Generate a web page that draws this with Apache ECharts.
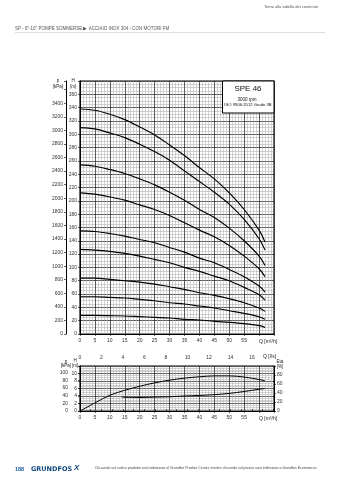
<!DOCTYPE html>
<html>
<head>
<meta charset="utf-8">
<script src="https://cdn.jsdelivr.net/npm/echarts@6/dist/echarts.min.js"></script>
<style>
html,body{margin:0;padding:0;background:#fff}
#c{width:339px;height:480px}
</style>
</head>
<body>
<div id="c"></div>
<script>
// Flow points (m³/h) at which the head curves are read
const flowPoints = [0, 5, 10, 15, 20, 25, 30, 35, 40, 45, 50, 55, 60, 62];

// Pump head H [m] per stage count
const stageNames = ['-24', '-22', '-18', '-15', '-11', '-9', '-6', '-4', '-2'];
const head24 = [338, 336, 330, 322, 311, 299, 284, 268, 250, 233, 212, 187, 156, 138];
const head22 = [310, 308, 302, 295, 285, 274, 261, 245, 229, 213, 195, 172, 143, 126];
const head18 = [254, 252, 247, 241, 233, 224, 213, 201, 187, 175, 159, 140, 117, 103];
const head15 = [212, 210, 206, 201, 194, 187, 178, 167, 156, 146, 133, 117, 98, 86];
const head11 = [155, 154, 151, 147, 142, 137, 130, 123, 114, 107, 97, 86, 72, 63];
const head9  = [127, 126, 124, 121, 117, 112, 107, 100, 94, 87, 80, 70, 59, 51];
const head6  = [84, 84, 82, 80, 78, 75, 71, 67, 62, 58, 53, 47, 39, 34];
const head4  = [56, 56, 55, 54, 52, 50, 47, 45, 42, 39, 35, 31, 26, 22];
const head2  = [28, 28, 27.5, 27, 26, 25, 24, 22, 21, 19, 17.5, 15.5, 12.5, 10];
const headCurves = [head24, head22, head18, head15, head11, head9, head6, head4, head2];

// Efficiency and NPSH
const etaFlow = [0, 5, 10, 15, 20, 25, 30, 35, 40, 45, 50, 55, 60, 62];
const etaValues = [0, 18, 35, 46, 55, 62.5, 68.5, 73, 76, 78, 78, 75.5, 70, 67];
const npshFlow = [14, 20, 25, 30, 35, 40, 45, 50, 55, 60, 62];
const npshValues = [3.7, 3.6, 3.7, 3.8, 4.0, 4.15, 4.35, 4.7, 5.2, 5.8, 6.0];

// Axis ranges and tick steps
const flowMax = 65, flowStep = 5, flowLabelMax = 55;
const headMax = 380, headStep = 20, headLabelMax = 360;
const kpaPerMetre = 9.81;
const pressureStep = 200, pressureLabelMax = 3400;
const npshMax = 12, npshStep = 2, npshLabelMax = 10;
const smallPressureStep = 20, smallPressureLabelMax = 100;
const etaMax = 100, etaStep = 20, etaLabelMax = 80;
const litreMax = flowMax / 3.6, litreLabelMax = 16;

const FONT = 'Liberation Sans, Arial, sans-serif';
const tickFont = { fontSize: 5, color: '#333', fontFamily: FONT };
const majorGrid = { show: true, lineStyle: { color: '#333', width: 0.8 } };
const minorGrid = { show: true, lineStyle: { color: '#a8a8a8', width: 0.5 } };
const axisBlack = { show: true, lineStyle: { color: '#000', width: 1 } };

function pairs(xs, ys) { return xs.map((x, i) => [x, ys[i]]); }

const headSeries = headCurves.map((curve, k) => ({
  type: 'line', xAxisIndex: 0, yAxisIndex: 0, smooth: 0.35, symbol: 'none',
  lineStyle: { color: '#000', width: 1.15 },
  data: curve.map((h, i) => i === 0
    ? { value: [flowPoints[i], h], label: { show: true, formatter: stageNames[k], position: [3, -6], fontSize: 4.5, color: '#333', fontFamily: FONT } }
    : [flowPoints[i], h])
}));

const etaData = pairs(etaFlow, etaValues).map((p, i) => i === 9
  ? { value: p, label: { show: true, formatter: 'Eta', position: [-4, -7], fontSize: 4.5, color: '#222', fontFamily: FONT } }
  : p);
const npshData = pairs(npshFlow, npshValues).map((p, i) => i === 4
  ? { value: p, label: { show: true, formatter: 'NPSH', position: [-2, -7], fontSize: 4.5, color: '#222', fontFamily: FONT } }
  : p);

const chart = echarts.init(document.getElementById('c'), null, { renderer: 'canvas' });

const flowAxis = (grid) => ({
  type: 'value', gridIndex: grid, min: 0, max: flowMax, interval: flowStep,
  axisLine: axisBlack,
  axisTick: { show: true, length: 2, lineStyle: { color: '#000', width: 0.6 } },
  axisLabel: Object.assign({ margin: 4, formatter: v => v <= flowLabelMax ? String(v) : '' }, tickFont),
  splitLine: majorGrid,
  minorTick: { show: false, splitNumber: 5 },
  minorSplitLine: minorGrid
});

chart.setOption({
  animation: false,
  grid: [
    { left: 80, top: 81, width: 194, height: 253, show: true, borderColor: '#000', borderWidth: 1.2, backgroundColor: 'transparent' },
    { left: 80, top: 366, width: 194, height: 45, show: true, borderColor: '#000', borderWidth: 1.2, backgroundColor: 'transparent' }
  ],
  xAxis: [
    flowAxis(0),
    flowAxis(1),
    {
      type: 'value', gridIndex: 1, position: 'top', offset: 14, min: 0, max: litreMax, interval: 1,
      axisLine: axisBlack,
      axisTick: { show: true, inside: false, length: 2, lineStyle: { color: '#000', width: 0.6 } },
      axisLabel: Object.assign({ inside: true, margin: 3, formatter: v => (v % 2 === 0 && v <= litreLabelMax) ? String(v) : '' }, tickFont),
      splitLine: { show: false }
    }
  ],
  yAxis: [
    {
      type: 'value', gridIndex: 0, min: 0, max: headMax, interval: headStep,
      axisLine: axisBlack,
      axisTick: { show: true, length: 2, lineStyle: { color: '#000', width: 0.6 } },
      axisLabel: Object.assign({ margin: 3, formatter: v => v <= headLabelMax ? String(v) : '' }, tickFont),
      splitLine: majorGrid,
      minorTick: { show: false, splitNumber: 4 },
      minorSplitLine: minorGrid
    },
    {
      type: 'value', gridIndex: 0, position: 'left', offset: 14, min: 0, max: headMax * kpaPerMetre, interval: pressureStep,
      axisLine: axisBlack,
      axisTick: { show: true, length: 2, lineStyle: { color: '#000', width: 0.6 } },
      axisLabel: Object.assign({ margin: 3, formatter: v => v <= pressureLabelMax ? String(v) : '' }, tickFont),
      splitLine: { show: false }
    },
    {
      type: 'value', gridIndex: 1, min: 0, max: npshMax, interval: npshStep,
      axisLine: axisBlack,
      axisTick: { show: true, length: 2, lineStyle: { color: '#000', width: 0.6 } },
      axisLabel: Object.assign({ margin: 3, formatter: v => v <= npshLabelMax ? String(v) : '' }, tickFont),
      splitLine: majorGrid,
      minorTick: { show: false, splitNumber: 4 },
      minorSplitLine: minorGrid
    },
    {
      type: 'value', gridIndex: 1, position: 'left', offset: 9, min: 0, max: npshMax * kpaPerMetre, interval: smallPressureStep,
      axisLine: axisBlack,
      axisTick: { show: true, length: 2, lineStyle: { color: '#000', width: 0.6 } },
      axisLabel: Object.assign({ margin: 3, formatter: v => v <= smallPressureLabelMax ? String(v) : '' }, tickFont),
      splitLine: { show: false }
    },
    {
      type: 'value', gridIndex: 1, position: 'right', min: 0, max: etaMax, interval: etaStep,
      axisLine: axisBlack,
      axisTick: { show: true, length: 2, lineStyle: { color: '#000', width: 0.6 } },
      axisLabel: Object.assign({ margin: 3, formatter: v => v <= etaLabelMax ? String(v) : '' }, tickFont),
      splitLine: { show: false }
    }
  ],
  series: headSeries.concat([
    { type: 'line', xAxisIndex: 1, yAxisIndex: 4, smooth: 0.35, symbol: 'none', lineStyle: { color: '#000', width: 1 }, data: etaData },
    { type: 'line', xAxisIndex: 1, yAxisIndex: 2, smooth: 0.35, symbol: 'none', lineStyle: { color: '#000', width: 1 }, data: npshData }
  ]),
  graphic: [
    // page header
    { type: 'text', right: 21, top: 5, style: { text: 'Torna alla tabella dei contenuti', fontSize: 4, fill: '#555', fontFamily: FONT } },
    { type: 'text', left: 15, top: 26, style: { text: 'SP - 6"-10" POMPE SOMMERSE ▶ ACCIAIO INOX 304 - CON MOTORI FM', fontSize: 4.5, fill: '#555', fontFamily: FONT } },
    { type: 'line', shape: { x1: 15, y1: 32.5, x2: 325, y2: 32.5 }, style: { stroke: '#ddd', lineWidth: 1 } },
    // axis headers, upper chart
    { type: 'text', x: 58, y: 78, style: { text: 'p', fontSize: 4.5, fill: '#222', align: 'center', fontFamily: FONT } },
    { type: 'text', x: 58, y: 84, style: { text: '[kPa]', fontSize: 4.5, fill: '#222', align: 'center', fontFamily: FONT } },
    { type: 'text', x: 73, y: 78, style: { text: 'H', fontSize: 4.5, fill: '#222', align: 'center', fontFamily: FONT } },
    { type: 'text', x: 73, y: 84, style: { text: '[m]', fontSize: 4.5, fill: '#222', align: 'center', fontFamily: FONT } },
    { type: 'text', x: 259, y: 339, style: { text: 'Q [m³/h]', fontSize: 5, fill: '#222', fontFamily: FONT } },
    { type: 'text', x: 263, y: 354.5, style: { text: 'Q [l/s]', fontSize: 5, fill: '#222', fontFamily: FONT } },
    // axis headers, lower chart
    { type: 'text', x: 66, y: 359, style: { text: 'p', fontSize: 4.5, fill: '#222', align: 'center', fontFamily: FONT } },
    { type: 'text', x: 66, y: 363.5, style: { text: '[kPa]', fontSize: 4.5, fill: '#222', align: 'center', fontFamily: FONT } },
    { type: 'text', x: 75, y: 358, style: { text: 'H', fontSize: 4.5, fill: '#222', align: 'center', fontFamily: FONT } },
    { type: 'text', x: 75, y: 363.5, style: { text: '[m]', fontSize: 4.5, fill: '#222', align: 'center', fontFamily: FONT } },
    { type: 'text', x: 280, y: 359, style: { text: 'Eta', fontSize: 4.5, fill: '#222', align: 'center', fontFamily: FONT } },
    { type: 'text', x: 280, y: 364, style: { text: '[%]', fontSize: 4.5, fill: '#222', align: 'center', fontFamily: FONT } },
    { type: 'text', x: 259, y: 416, style: { text: 'Q [m³/h]', fontSize: 5, fill: '#222', fontFamily: FONT } },
    // model box
    { type: 'rect', shape: { x: 222.5, y: 81, width: 51.5, height: 32 }, style: { fill: '#fff', stroke: '#000', lineWidth: 1 }, z: 100 },
    { type: 'text', x: 248, y: 85, z: 101, style: { text: 'SPE 46', fontSize: 8, fill: '#111', align: 'center', fontFamily: FONT } },
    { type: 'text', x: 247, y: 97, z: 101, style: { text: '3000 rpm', fontSize: 4.5, fill: '#111', align: 'center', fontFamily: FONT } },
    { type: 'text', x: 248, y: 103, z: 101, style: { text: 'ISO 9906:2012 Grade 3B', fontSize: 4.2, fill: '#111', align: 'center', fontFamily: FONT } },
    // footer
    { type: 'text', left: 15, top: 466, style: { text: '188', fontSize: 5.5, fill: '#1c5fa8', fontFamily: FONT, fontWeight: 'bold' } },
    { type: 'text', left: 31, top: 465.5, style: { text: 'GRUNDFOS', fontSize: 6.5, fill: '#11497f', fontFamily: 'DejaVu Sans, sans-serif', fontWeight: 'bold' } },
    { type: 'text', left: 74, top: 463.5, style: { text: 'X', fontSize: 8, fill: '#11497f', fontFamily: FONT, fontWeight: 'bold', fontStyle: 'italic' } },
    { type: 'text', left: 95, top: 466, style: { text: 'Cliccando sul codice prodotto sarà indirizzato al Grundfos Product Center, mentre cliccando sul prezzo sarà indirizzato a Grundfos Ecommerce.', fontSize: 3.5, fill: '#444', fontFamily: FONT } }
  ]
});
</script>
</body>
</html>
